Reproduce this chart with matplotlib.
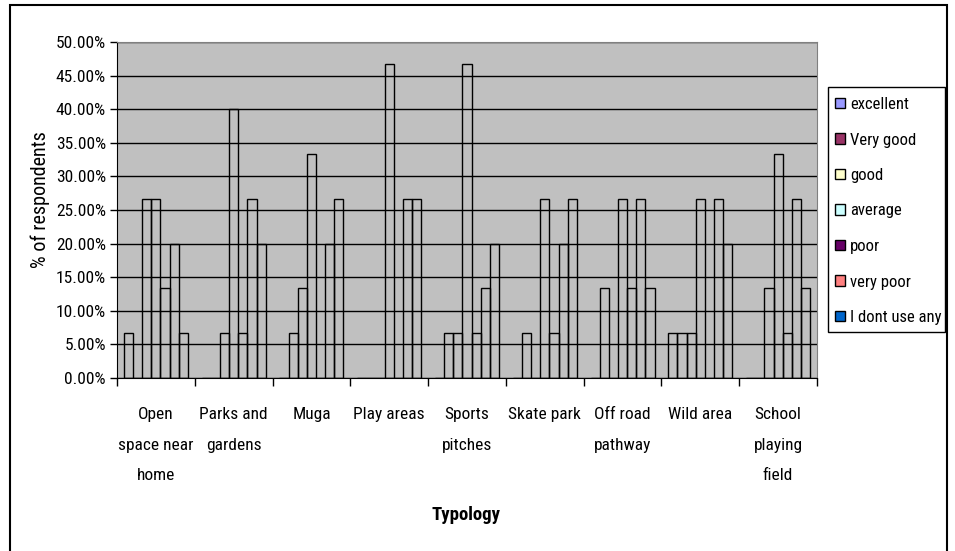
import matplotlib
matplotlib.use("Agg")
import matplotlib.pyplot as plt
from matplotlib.patches import Patch, Rectangle
from matplotlib.ticker import FuncFormatter
import numpy as np

plt.rcParams["font.family"] = ["Roboto Condensed", "DejaVu Sans"]

categories = ["Open\nspace near\nhome", "Parks and\ngardens", "Muga", "Play areas",
              "Sports\npitches", "Skate park", "Off road\npathway", "Wild area",
              "School\nplaying\nfield"]
ratings = ["excellent", "Very good", "good", "average", "poor", "very poor", "I dont use any"]
legend_colors = ["#9999FF", "#993366", "#FFFFCC", "#CCFFFF", "#660066", "#FF8080", "#0066CC"]

# % of respondents per rating, one value per category
excellent = [6.67, 0, 0, 0, 0, 0, 0, 6.67, 0]
very_good = [0, 0, 6.67, 0, 6.67, 6.67, 13.33, 6.67, 0]
good = [26.67, 6.67, 13.33, 0, 6.67, 0, 0, 6.67, 13.33]
average = [26.67, 40.0, 33.33, 46.67, 46.67, 26.67, 26.67, 26.67, 33.33]
poor = [13.33, 6.67, 0, 0, 6.67, 6.67, 13.33, 0, 6.67]
very_poor = [20.0, 26.67, 20.0, 26.67, 13.33, 20.0, 26.67, 26.67, 26.67]
dont_use = [6.67, 20.0, 26.67, 26.67, 20.0, 26.67, 13.33, 20.0, 13.33]
series = [excellent, very_good, good, average, poor, very_poor, dont_use]

W, H = 955, 551
fig = plt.figure(figsize=(W / 100, H / 100), dpi=100)
ax = fig.add_axes([117 / W, 1 - 378 / H, 700 / W, 336 / H])
ax.set_facecolor("#C0C0C0")

# Excel-style clustered columns, gap width 150%
n = len(ratings)
w = 1 / (n + 1.5)
centers = np.arange(len(categories)) + 0.5
for j, vals in enumerate(series):
    ax.bar(centers + (j - (n - 1) / 2) * w, vals, width=w, facecolor="none",
           edgecolor="black", linewidth=1.0, zorder=3)

ax.set_xlim(0, len(categories))
ax.set_ylim(0, 50)
ax.set_yticks(np.arange(0, 50.01, 5))
ax.yaxis.set_major_formatter(FuncFormatter(lambda v, p: f"{v:.2f}%"))
ax.yaxis.grid(True, color="black", linewidth=1.0, zorder=1)
ax.set_axisbelow(True)

ax.set_xticks(np.arange(0, len(categories) + 1))
ax.set_xticklabels([])
ax.set_xticks(centers, minor=True)
ax.set_xticklabels(categories, minor=True, fontsize=12.5, linespacing=2.3)
ax.tick_params(axis="x", which="major", direction="out", length=6, width=1)
ax.tick_params(axis="x", which="minor", length=0, pad=21)
ax.tick_params(axis="y", direction="out", length=5, width=1, labelsize=12.5, pad=3)

for s in ["top", "right"]:
    ax.spines[s].set_color("#808080")
for s in ["left", "bottom"]:
    ax.spines[s].set_color("black")

fig.text(40 / W, 1 - 200 / H, "% of respondents", rotation=90,
         ha="center", va="center", fontsize=14.5)
fig.text(466 / W, 1 - 515 / H, "Typology", ha="center", va="center",
         fontsize=13.5, fontweight="bold")

# legend entries, frame drawn separately to match the Excel box
handles = [Patch(facecolor=c, edgecolor="black", linewidth=1) for c in legend_colors]
leg = fig.legend(handles, ratings, loc="upper left",
                 bbox_to_anchor=(835 / W, 1 - 97 / H), fontsize=12,
                 frameon=False, borderaxespad=0, borderpad=0,
                 handlelength=0.6, handleheight=0.6, handletextpad=0.3,
                 labelspacing=1.23)
fig.patches.append(Rectangle((828 / W, 1 - 332 / H), 117 / W, 245 / H,
                             transform=fig.transFigure, fill=False,
                             edgecolor="black", linewidth=1))

# outer chart border
fig.patches.append(Rectangle((10 / W, -0.02), 937 / W, 1.02 - 5 / H,
                             transform=fig.transFigure, fill=False,
                             edgecolor="black", linewidth=1.5))

fig.savefig("out.png", dpi=100)
